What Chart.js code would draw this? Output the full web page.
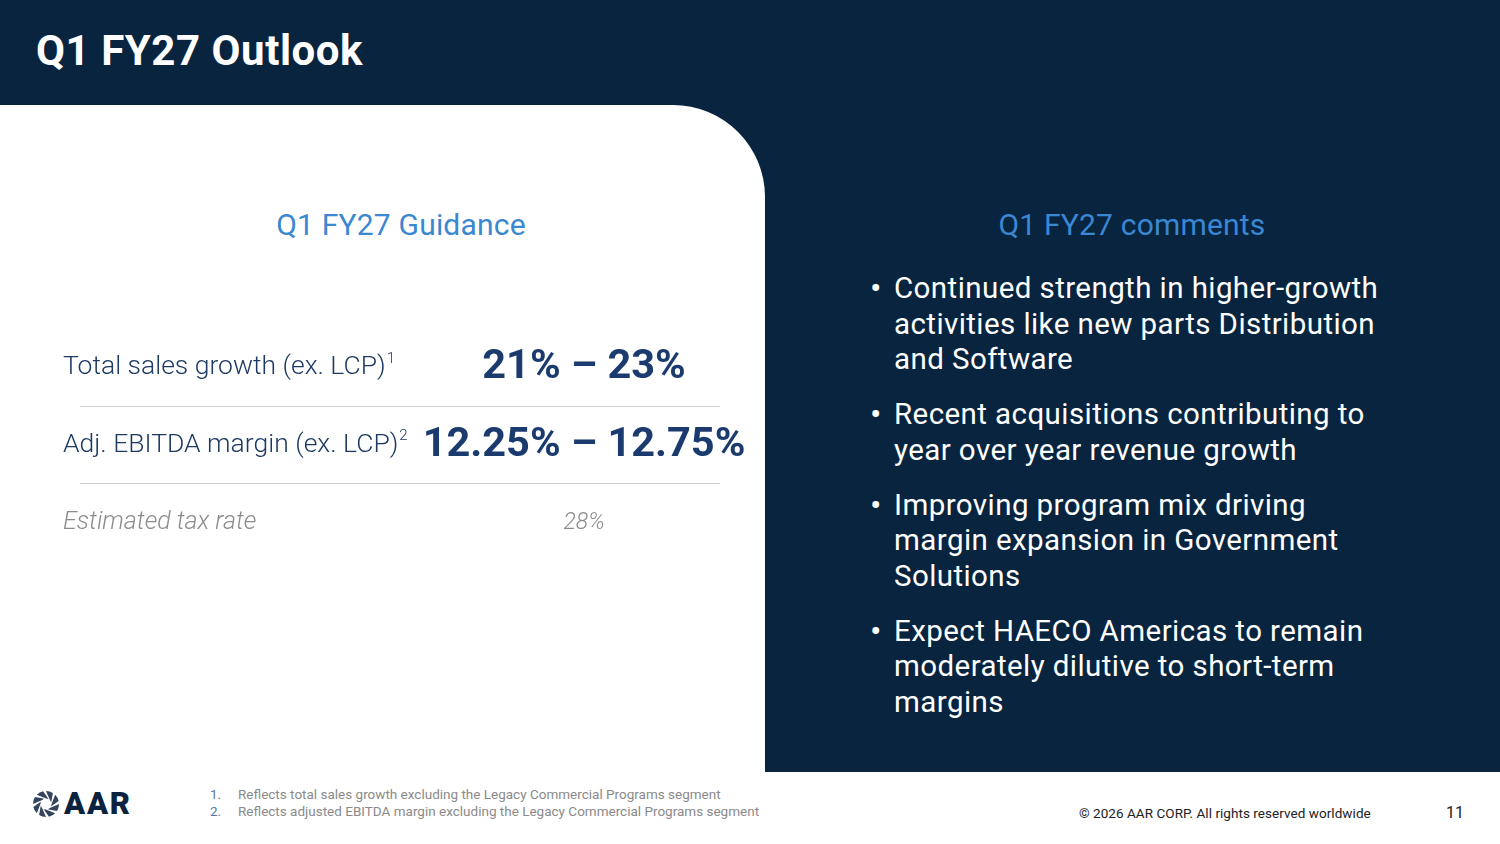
<!DOCTYPE html>
<html>
<head>
<meta charset="utf-8">
<script src="https://cdn.jsdelivr.net/npm/chart.js@4"></script>
<style>
  html,body{margin:0;padding:0;}
  body{width:1500px;height:844px;position:relative;overflow:hidden;background:#fff;font-family:Roboto,"Noto Sans",sans-serif;}
  .navy{position:absolute;left:0;top:0;width:1500px;height:772px;background:#08243f;}
  .white{position:absolute;left:0;top:105px;width:765px;height:739px;background:#fff;border-top-right-radius:92px;}
  .title{position:absolute;left:36px;top:26px;color:#fff;font-weight:700;font-size:42px;letter-spacing:0.55px;}
  .h2{position:absolute;top:207px;font-size:30px;color:#3a87d2;text-align:center;letter-spacing:0.2px;}
  #guidance{position:absolute;left:0;top:327.5px;}
  ul{position:absolute;left:873px;top:271px;margin:0;padding:0;list-style:none;color:#fff;font-size:29.5px;line-height:35.5px;width:600px;letter-spacing:0.42px;}
  li{position:relative;padding-left:21px;margin-bottom:19.5px;}
  li:before{content:"•";position:absolute;left:-3px;top:0;font-size:34px;}
  .fn{position:absolute;left:210px;font-size:13.5px;color:#8a8a8a;}
  .fn span{display:inline-block;width:28px;color:#5a78a8;}
  .copy{position:absolute;left:1079px;top:805px;font-size:13.5px;color:#222;letter-spacing:0.05px;}
  .page{position:absolute;left:1446px;top:803px;font-size:16px;color:#222;}
  .logo{position:absolute;left:32px;top:789px;display:flex;align-items:center;}
  .logo b{font-size:31px;color:#0c2340;font-weight:900;margin-left:4px;letter-spacing:1.8px;line-height:30px;}
</style>
</head>
<body>
<div class="navy"></div>
<div class="white"></div>
<div class="title">Q1 FY27 Outlook</div>
<div class="h2" style="left:201px;width:400px;">Q1 FY27 Guidance</div>
<div class="h2" style="left:932px;width:400px;">Q1 FY27 comments</div>
<canvas id="guidance" width="765" height="233"></canvas>
<ul>
  <li>Continued strength in higher-growth<br>activities like new parts Distribution<br>and Software</li>
  <li>Recent acquisitions contributing to<br>year over year revenue growth</li>
  <li>Improving program mix driving<br>margin expansion in Government<br>Solutions</li>
  <li>Expect HAECO Americas to remain<br>moderately dilutive to short-term<br>margins</li>
</ul>
<div class="logo">
  <svg width="28" height="28" viewBox="-14 -14 28 28">
    <g fill="#34445c">
      <path id="bl" d="M0,-13 A13,13 0 0 1 6.89,-11.02 L5.23,-1.70 A5.5,5.5 0 0 0 4.02,-3.75 Z"/>
      <use href="#bl" transform="rotate(45)"/>
      <use href="#bl" transform="rotate(90)"/>
      <use href="#bl" transform="rotate(135)"/>
      <use href="#bl" transform="rotate(180)"/>
      <use href="#bl" transform="rotate(225)"/>
      <use href="#bl" transform="rotate(270)"/>
      <use href="#bl" transform="rotate(315)"/>
    </g>
  </svg>
  <b>AAR</b>
</div>
<div class="fn" style="top:786px;"><span>1.</span>Reflects total sales growth excluding the Legacy Commercial Programs segment</div>
<div class="fn" style="top:803px;"><span>2.</span>Reflects adjusted EBITDA margin excluding the Legacy Commercial Programs segment</div>
<div class="copy">© 2026 AAR CORP. All rights reserved worldwide</div>
<div class="page">11</div>
<script>
const guidanceLabels = ['Total sales growth (ex. LCP)', 'Adj. EBITDA margin (ex. LCP)', 'Estimated tax rate'];
const footnoteMarks = ['1', '2', ''];
const guidanceValues = ['21% – 23%', '12.25% – 12.75%', '28%'];

const tablePlugin = {
  id: 'guidanceTable',
  afterDraw(chart) {
    const ctx = chart.ctx;
    const yS = chart.scales.y;
    ctx.save();
    ctx.textBaseline = 'middle';
    ctx.strokeStyle = '#d0d0d0';
    ctx.lineWidth = 1;
    for (let i = 1; i < guidanceLabels.length; i++) {
      const y = Math.round((yS.getPixelForValue(i - 1) + yS.getPixelForValue(i)) / 2) + 0.5;
      ctx.beginPath(); ctx.moveTo(80, y); ctx.lineTo(720, y); ctx.stroke();
    }
    guidanceLabels.forEach((lab, i) => {
      const y = yS.getPixelForValue(i);
      const muted = i === guidanceLabels.length - 1;
      ctx.textAlign = 'left';
      ctx.fillStyle = muted ? '#8c8c8c' : '#1e3a63';
      ctx.font = muted ? 'italic 300 25px Roboto' : '300 26.5px Roboto';
      ctx.fillText(lab, 63, y + 1);
      if (footnoteMarks[i]) {
        const w = ctx.measureText(lab).width;
        ctx.font = '300 15px Roboto';
        ctx.fillText(footnoteMarks[i], 63 + w + 1, y - 8);
      }
      ctx.textAlign = 'center';
      if (muted) {
        ctx.font = 'italic 300 23px Roboto';
        ctx.fillStyle = '#8c8c8c';
      } else {
        ctx.font = '700 41.5px Roboto';
        ctx.fillStyle = '#1b3b6f';
      }
      ctx.fillText(guidanceValues[i], 584, y + 1);
    });
    ctx.restore();
  }
};

new Chart(document.getElementById('guidance'), {
  type: 'bar',
  data: { labels: guidanceLabels, datasets: [{ data: guidanceLabels.map(() => 0), backgroundColor: 'rgba(0,0,0,0)' }] },
  options: {
    indexAxis: 'y',
    responsive: false,
    animation: false,
    events: [],
    layout: { padding: 0 },
    plugins: { legend: { display: false }, tooltip: { enabled: false } },
    scales: {
      x: { display: false, min: 0, max: 1 },
      y: { type: 'category', display: false, offset: true }
    }
  },
  plugins: [tablePlugin]
});
</script>
</body>
</html>
